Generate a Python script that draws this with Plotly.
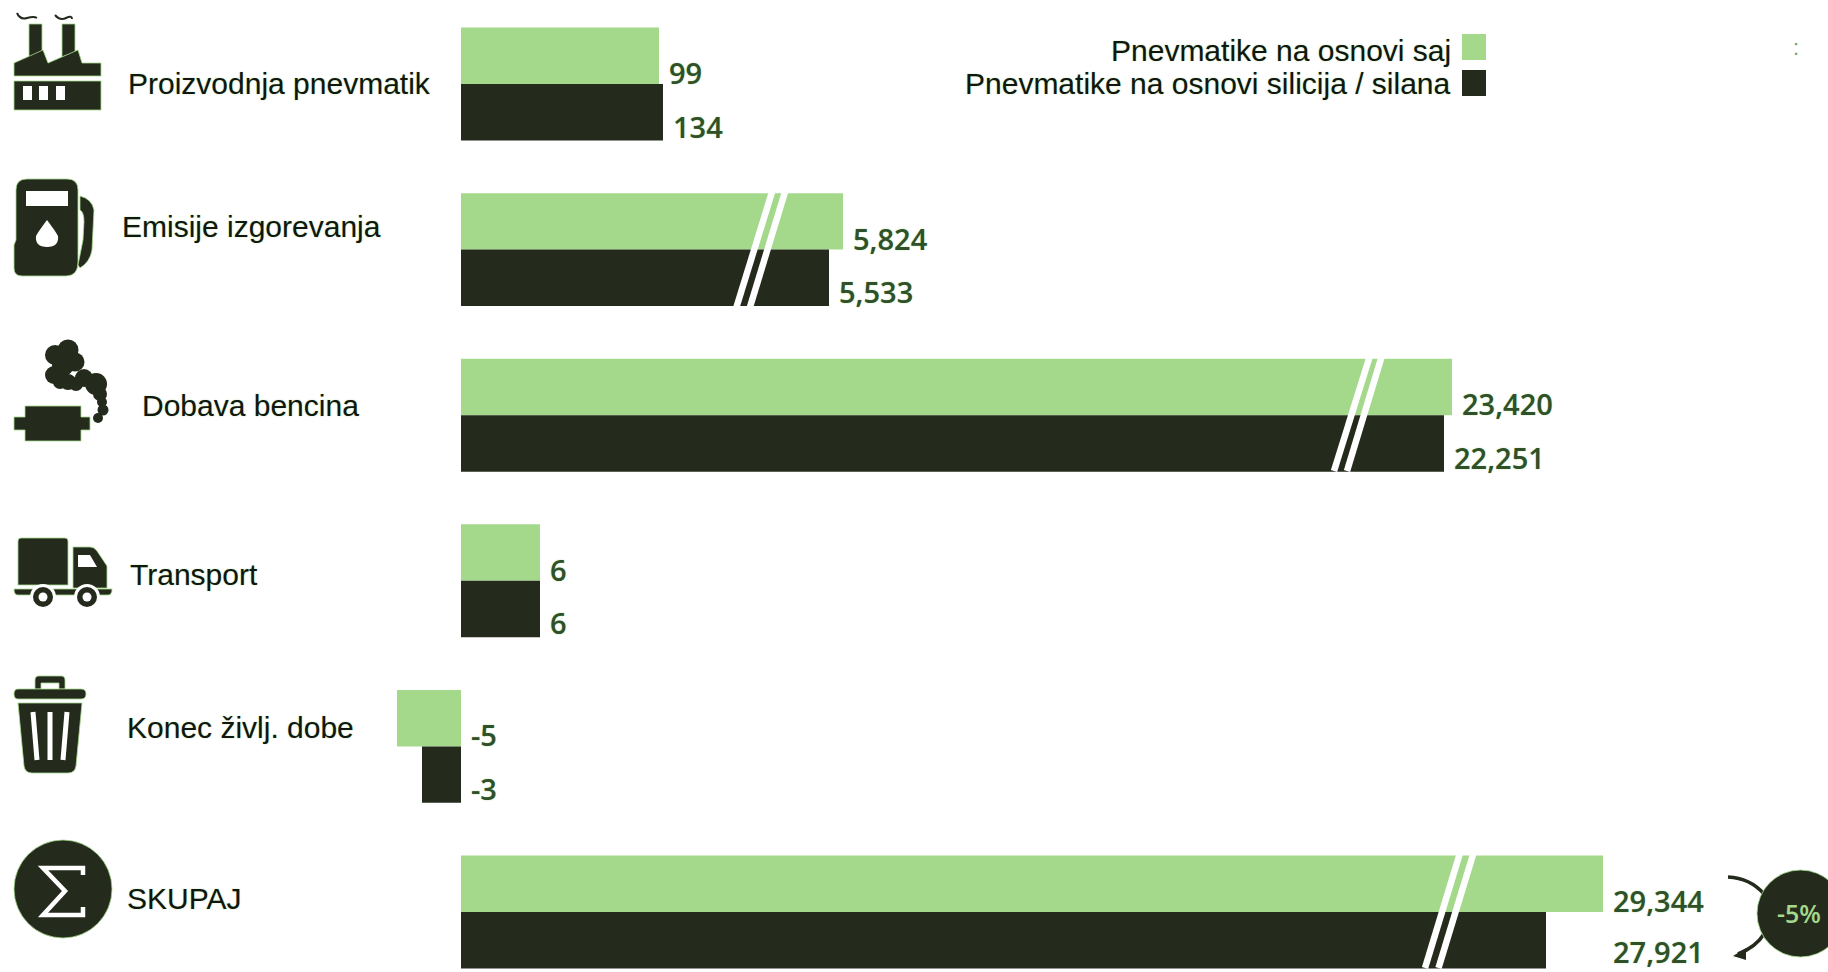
import re

import numpy as np
import plotly.graph_objects as go

WIDTH, HEIGHT = 1828, 972
LIGHT = "#a4d98c"
DARK = "#242b1c"
VALUE_COLOR = "#30502a"
HALO = "#a4d98c"

categories = [
    "Proizvodnja pnevmatik",
    "Emisije izgorevanja",
    "Dobava bencina",
    "Transport",
    "Konec življ. dobe",
    "SKUPAJ",
]
carbon_black_tyres = [99, 5824, 23420, 6, -5, 29344]
silica_silane_tyres = [134, 5533, 22251, 6, -3, 27921]
series_names = ["Pnevmatike na osnovi saj", "Pnevmatike na osnovi silicija / silana"]
change_label = "-5%"

# The value axis is broken: long bars are compressed, so it is a piecewise scale.
axis_values = [-5, -3, 0, 6, 99, 134, 5533, 5824, 22251, 23420, 27921, 29344]
axis_lengths = [-64, -39, 0, 79, 198, 202, 368, 382, 983, 991, 1085, 1142]
ZERO_PX = 461
ROW_TOP_PX = 84
ROW_STEP_PX = 165.6


def scale(values):
    return np.interp(values, axis_values, axis_lengths)


def fx(x):
    return x / WIDTH


def fy(y):
    return 1 - y / HEIGHT


def to_paper(path):
    """Turn an SVG path written in page pixels into paper coordinates."""
    count = [0]

    def convert(match):
        value = float(match.group())
        count[0] += 1
        return f"{fx(value):.5f}" if count[0] % 2 else f"{fy(value):.5f}"

    return re.sub(r"-?\d+\.?\d*", convert, path)


shapes = []


def base(**kw):
    return dict(xref="paper", yref="paper", layer="above", **kw)


def fill(path, color=DARK, halo=True):
    line = dict(color=HALO, width=0.8) if halo else dict(width=0)
    shapes.append(base(type="path", path=to_paper(path), fillcolor=color, line=line))


def stroke(path, width, color=DARK):
    shapes.append(base(type="path", path=to_paper(path), line=dict(color=color, width=width)))


def disc(cx, cy, r, color=DARK, halo=False):
    line = dict(color=HALO, width=0.8) if halo else dict(width=0)
    shapes.append(base(type="circle", x0=fx(cx - r), x1=fx(cx + r), y0=fy(cy + r), y1=fy(cy - r),
                       fillcolor=color, line=line))


def rect(x0, y0, x1, y1, color):
    shapes.append(base(type="rect", x0=fx(x0), x1=fx(x1), y0=fy(y1), y1=fy(y0),
                       fillcolor=color, line=dict(width=0)))


# Factory
fill("M29 24 L42 24 L42 52 L29 57 Z")
fill("M62 24 L75 24 L75 52 L62 57 Z")
fill("M14 63 L43 50 L48 63 L78 50 L82 63 L101 63 L101 76 L14 76 Z")
fill("M14 81 L101 81 L101 110 L14 110 Z")
for wx in (23, 39, 56):
    rect(wx, 86, wx + 9, 100, "white")
stroke("M17 13 Q20 20 27 18 T37 18", 2)
stroke("M55 15 Q60 21 66 18 T72 19", 2)

# Fuel pump
fill("M16 190 Q16 179 27 179 L67 179 Q78 179 78 190 L78 262 Q78 276 66 276 L22 276 "
     "Q14 276 14 268 L14 245 L16 240 Z")
rect(26, 191, 68, 206, "white")
fill("M47 220 Q38 232 36 236 Q35 247 47 247 Q59 247 58 236 Q56 232 47 220 Z", "white", halo=False)
fill("M80 196 Q92 199 94 210 L92 250 Q90 262 80 268 L78 265 L83 240 L84 222 Q84 212 80 210 Z")

# Exhaust with a smoke plume
fill("M25 406 L81 406 L81 417 L90 417 L90 430 L81 430 L81 441 L25 441 L25 430 L14 430 L14 417 L25 417 Z")
for zx, zy, zr in [(68, 350, 10.5), (55, 355, 10), (75, 362, 9.5), (63, 365, 11), (54, 375, 9),
                   (60, 382, 7), (68, 382, 8), (76, 384, 7), (84, 378, 9), (96, 384, 11),
                   (100, 394, 7), (102, 402, 5), (103, 410, 5.5), (98, 418, 5)]:
    disc(zx, zy, zr)

# Delivery truck
fill("M21 538 L65 538 Q68 538 68 541 L68 585 L18 585 L18 541 Q18 538 21 538 Z")
fill("M73 547 L90 547 Q94 547 97 551 L107 566 L107 588 L73 588 Z")
fill("M78 555 L90 555 L97 567 L78 567 Z", "white", halo=False)
fill("M14 589 Q14 595 18 595 L108 595 Q112 595 112 589 Z")
for wheel_x in (43, 87):
    disc(wheel_x, 597, 13, "white")
    disc(wheel_x, 597, 10)
    disc(wheel_x, 597, 4.5, "white")

# Waste bin
fill("M35 689 L35 680 Q35 676 39 676 L61 676 Q65 676 65 680 L65 689 L59 689 L59 683 L41 683 L41 689 Z")
fill("M18 689 L81 689 Q86 689 86 694 Q86 699 81 699 L18 699 Q14 699 14 694 Q14 689 18 689 Z")
fill("M18 703 L82 703 L76 766 Q75 773 68 773 L32 773 Q25 773 24 766 Z")
for x_top, x_bottom in [(33, 37), (50, 50), (67, 63)]:
    stroke(f"M{x_top} 712 L{x_bottom} 760", 5, "white")

# Sum badge
disc(63, 889, 49, halo=True)
stroke("M83 875 L83 868 L43 868 L65 891 L43 915 L83 915 L83 907", 4.5, "white")

# Double slash marking the break in the axis on long bars
for (top_a, bottom_a, top_b, bottom_b, y_top, y_bottom) in [
    (772, 736.5, 785, 750, 192, 307),
    (1369.5, 1334, 1381.5, 1347, 357, 471),
    (1460, 1425, 1473.5, 1438.5, 853, 968),
]:
    for x_top, x_bottom in ((top_a, bottom_a), (top_b, bottom_b)):
        shapes.append(base(type="line", x0=fx(x_top), x1=fx(x_bottom), y0=fy(y_top), y1=fy(y_bottom),
                           line=dict(color="white", width=6.5)))

# Legend keys
rect(1462, 34, 1486, 60, LIGHT)
rect(1462, 70, 1486, 96, DARK)

# Change badge and its arrows, running off the right edge of the page
stroke("M1728 877 Q1750 878 1764 894", 3.5)
stroke("M1764 934 Q1756 947 1738 954", 3.5)
fill("M1733 956 L1746 948 L1746 960 Z", halo=False)
disc(1800.5, 913.5, 43.5, halo=True)

fig = go.Figure()
for name, values, color in zip(series_names, (carbon_black_tyres, silica_silane_tyres), (LIGHT, DARK)):
    fig.add_bar(
        y=categories,
        x=scale(values),
        name=name,
        orientation="h",
        marker=dict(color=color, line=dict(width=0)),
        customdata=values,
        hovertemplate="%{y}<br>" + name + ": %{customdata:,}<extra></extra>",
    )

annotations = []


def text(x, y, label, size, color, anchor="left", family="Liberation Sans", xref="paper", yref="paper",
         shadow="0 0 1.5px " + HALO, weight="normal", **kw):
    annotations.append(dict(x=x, y=y, text=label, xref=xref, yref=yref, showarrow=False,
                            xanchor=anchor, yanchor="middle", borderpad=0,
                            font=dict(family=family, size=size, color=color, shadow=shadow, weight=weight),
                            **kw))


# Category labels sit beside the icons at individually chosen offsets
label_left = [127, 121, 141, 129, 126, 126]
label_mid = [84, 227, 406, 574, 727, 898]
for label, left, mid in zip(categories, label_left, label_mid):
    text(fx(left), fy(mid), label, 30, "#111611")

for label, mid in zip(series_names, (50, 84)):
    text(fx(1452), fy(mid), label, 30, "#111611", anchor="right")

# Value labels follow the bar ends; negative ones stay on the positive side of zero
GROUP_OFFSETS = (-11.5, 42)
X_GAP = 9
last_row = len(categories) - 1
for row, (a, b) in enumerate(zip(carbon_black_tyres, silica_silane_tyres)):
    for v, offset in zip((a, b), GROUP_OFFSETS):
        end = max(a, b) if row == last_row else max(v, 0)
        # the lowest label is nudged up so its box stays on the page
        nudge = 3 if row == last_row and offset > 0 else 0
        text(float(scale(end)), row, f"{v:,}", 29, VALUE_COLOR, family="Open Sans", xref="x", yref="y",
             xshift=X_GAP, yshift=nudge - offset, weight=600)

text(fx(1799), fy(913), change_label, 25, LIGHT, anchor="center", family="Open Sans", shadow="none", weight=600)
# Small colon near the top right corner
text(fx(1796), fy(47), ":", 22, "#6aa85e", anchor="center", shadow="none")

fig.update_layout(
    width=WIDTH,
    height=HEIGHT,
    autosize=False,
    margin=dict(l=0, r=0, t=0, b=0),
    paper_bgcolor="white",
    plot_bgcolor="white",
    showlegend=False,
    barmode="group",
    bargap=0.318,
    bargroupgap=0,
    shapes=shapes,
    annotations=annotations,
    xaxis=dict(visible=False, range=[-ZERO_PX, WIDTH - ZERO_PX]),
    yaxis=dict(
        visible=False,
        type="category",
        range=[(HEIGHT - ROW_TOP_PX) / ROW_STEP_PX, -ROW_TOP_PX / ROW_STEP_PX],
    ),
)

fig.write_html("out.html", config=dict(displayModeBar=False))
